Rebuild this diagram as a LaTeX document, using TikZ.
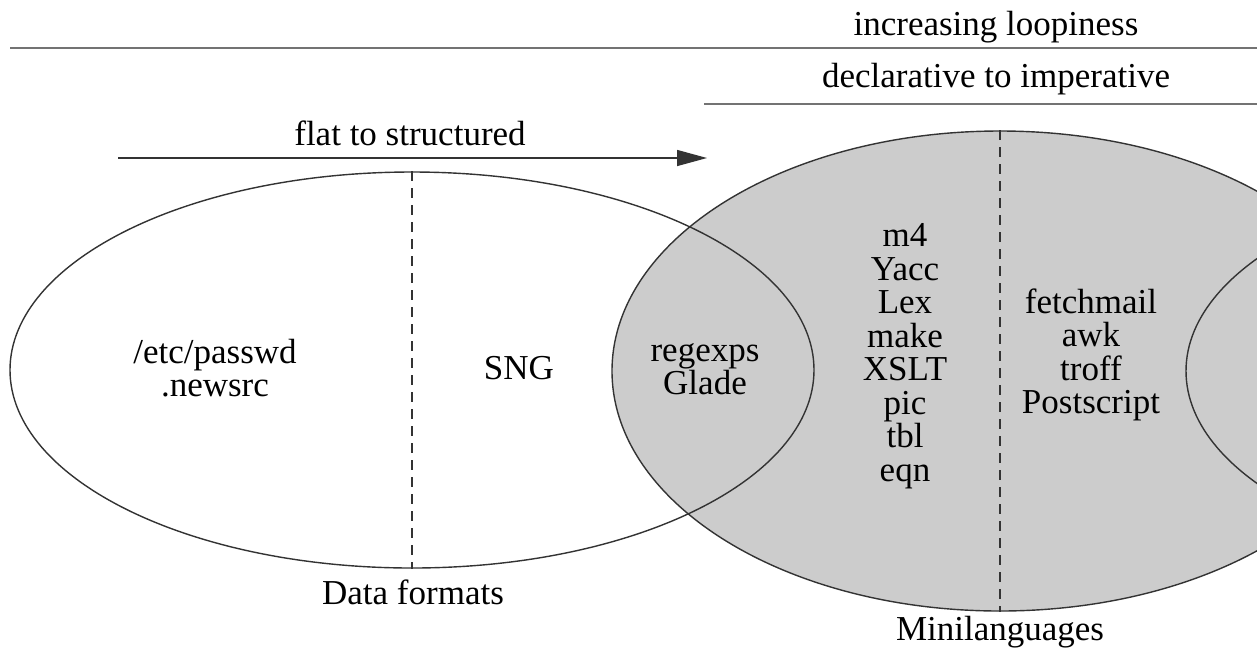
\documentclass[tikz,border=0pt]{standalone}
\usepackage{fontspec}
\setmainfont{Liberation Serif}
\usetikzlibrary{shapes.geometric,arrows.meta}
\tikzset{
  txt/.style={font=\fontsize{35}{33.5}\selectfont, align=center, inner sep=0pt},
  oval/.style={ellipse, draw=black!80, line width=1.4pt, inner sep=0pt},
  rule/.style={draw=black!55, line width=2.2pt},
  divider/.style={draw=black!80, line width=1.2pt, dash pattern=on 10pt off 7pt},
}
\begin{document}
\begin{tikzpicture}[x=1pt,y=-1pt]
\useasboundingbox (0,0) rectangle (1257,649);
\fill[white] (0,0) rectangle (1257,649);
\begin{scope}
\clip (0,0) rectangle (1257,649);
% ellipses
\node[oval, fill=black!20, minimum width=776pt, minimum height=480pt] (mini) at (1000,371) {};
\node[oval, minimum width=804pt, minimum height=396pt] (data) at (412,370) {};
\node[oval, minimum width=804pt, minimum height=396pt] (right) at (1588,371) {};
\end{scope}
% dashed dividers
\draw[divider] (data.north) -- (data.south);
\draw[divider] (mini.north) -- (mini.south);
% top rules
\node[txt] (loop) at (996,27) {increasing loopiness};
\coordinate (r1a) at (10,48);
\coordinate (r1b) at (1257,48);
\draw[rule] (r1a) -- (r1b);
\node[txt] (decl) at (996,79) {declarative to imperative};
\coordinate (r2a) at (704,104);
\coordinate (r2b) at (1257,104);
\draw[rule] (r2a) -- (r2b);
\node[txt] (flat) at (410,133) {flat to structured};
\coordinate (a1) at (118,158);
\coordinate (a2) at (707,158);
\draw[draw=black!80, line width=1.4pt, -{Triangle[length=30pt,width=16pt]}] (a1) -- (a2);
% texts
\node[txt] (passwd) at (215,368) {/etc/passwd\\.newsrc};
\node[txt] (sng) at (519,368) {SNG};
\node[txt] (regex) at (705,369) {regexps\\Glade};
\node[txt] (col1) at (905,356) {m4\\Yacc\\Lex\\make\\XSLT\\pic\\tbl\\eqn};
\node[txt] (col2) at (1091,355) {fetchmail\\awk\\troff\\Postscript};
\node[txt] (dflab) at (413,592) {Data formats};
\node[txt] (mllab) at (1000,632) {Minilanguages};
\end{tikzpicture}
\end{document}
